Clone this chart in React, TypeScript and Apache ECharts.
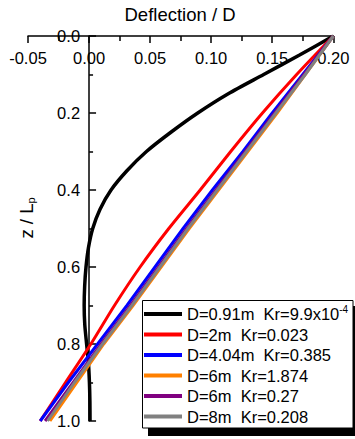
import React, { useEffect, useRef } from "react";
import * as echarts from "echarts";

const FONT = "'Liberation Sans', Arial, sans-serif";

// depth ratio z / Lp
const blackZ = [0, 0.05, 0.1, 0.15, 0.2, 0.25, 0.3, 0.35, 0.4, 0.45, 0.5, 0.55, 0.6, 0.65, 0.7, 0.75, 0.8, 0.85, 0.9, 0.95, 1.0];
const blackDefl = [0.2, 0.172, 0.143, 0.114, 0.089, 0.067, 0.047, 0.031, 0.018, 0.009, 0.003, -0.0005, -0.0025, -0.0036, -0.004, -0.0035, -0.002, -0.0005, 0.0003, 0.0007, 0.0008];

const zSteps = [0, 0.1, 0.2, 0.3, 0.4, 0.5, 0.6, 0.7, 0.8, 0.9, 1.0];
const redDefl = [0.2, 0.170, 0.142, 0.116, 0.091, 0.0653, 0.0418, 0.0208, 0.0015, -0.0193, -0.040];
const blueDefl = [0.2, 0.175, 0.150, 0.126, 0.101, 0.077, 0.054, 0.031, 0.007, -0.017, -0.040];
const orangeDefl = [0.2, 0.177, 0.154, 0.130, 0.106, 0.082, 0.059, 0.036, 0.012, -0.010, -0.032];
const purpleDefl = [0.2, 0.176, 0.152, 0.128, 0.104, 0.080, 0.057, 0.034, 0.010, -0.013, -0.036];
const grayDefl = [0.2, 0.177, 0.153, 0.129, 0.105, 0.081, 0.058, 0.035, 0.011, -0.012, -0.034];

const seriesNames = [
  "D=0.91m  Kr=9.9x10-4",
  "D=2m  Kr=0.023",
  "D=4.04m  Kr=0.385",
  "D=6m  Kr=1.874",
  "D=6m  Kr=0.27",
  "D=8m  Kr=0.208",
];
const seriesColors = ["#000000", "#ff0000", "#0000ff", "#ff8000", "#800080", "#808080"];

const xTicks = { min: -0.05, max: 0.2, interval: 0.05 };
const yTicks = { min: 0, max: 1, interval: 0.2 };

function pairs(xs: number[], zs: number[]) {
  return xs.map((x, i) => [x, zs[i]]);
}

export default function App() {
  const ref = useRef<HTMLDivElement>(null);
  useEffect(() => {
    if (!ref.current) return;
    const chart = echarts.init(ref.current, undefined, { renderer: "svg" });
    const datasets = [
      pairs(blackDefl, blackZ),
      pairs(redDefl, zSteps),
      pairs(blueDefl, zSteps),
      pairs(orangeDefl, zSteps),
      pairs(purpleDefl, zSteps),
      pairs(grayDefl, zSteps),
    ];
    const gridLeft = 28;
    const gridWidth = 305.3;
    // pixel offset of x = 0 from the grid's left edge
    const zeroOffset = ((0 - xTicks.min) / (xTicks.max - xTicks.min)) * gridWidth;
    const axisLineStyle = { color: "#000", width: 1.5 };
    const labelStyle = { fontSize: 16.5, fontFamily: FONT, color: "#000" };
    chart.setOption({
      animation: false,
      backgroundColor: "#fff",
      grid: {
        left: gridLeft,
        width: gridWidth,
        top: 36,
        bottom: 18,
        containLabel: false,
        outerBoundsMode: "none",
      },
      xAxis: {
        type: "value",
        position: "top",
        min: xTicks.min,
        max: xTicks.max,
        interval: xTicks.interval,
        axisLine: { show: true, onZero: false, lineStyle: axisLineStyle },
        axisTick: { show: true, inside: true, length: 7, lineStyle: axisLineStyle },
        minorTick: { show: true, splitNumber: 2, length: 5, lineStyle: axisLineStyle },
        axisLabel: { inside: true, margin: 13, formatter: (v: number) => v.toFixed(2), ...labelStyle },
        splitLine: { show: false },
      },
      yAxis: {
        type: "value",
        position: "left",
        inverse: true,
        min: yTicks.min,
        max: yTicks.max,
        interval: yTicks.interval,
        offset: -zeroOffset,
        axisLine: { show: true, onZero: false, lineStyle: axisLineStyle },
        axisTick: { show: true, inside: true, length: 7, lineStyle: axisLineStyle },
        minorTick: { show: true, splitNumber: 2, length: 4, lineStyle: axisLineStyle },
        axisLabel: { margin: 9, formatter: (v: number) => v.toFixed(1), ...labelStyle },
        splitLine: { show: false },
      },
      legend: {
        show: true,
        orient: "vertical",
        left: 144,
        top: 304,
        padding: 0,
        itemGap: 0.5,
        itemWidth: 38,
        itemHeight: 4,
        icon: "rect",
        selectedMode: false,
        z: 20,
        data: seriesNames,
        formatter: (name: string) =>
          name === seriesNames[0] ? "{t|D=0.91m  Kr=9.9x10}{sup|-4}" : "{t|" + name + "}",
        textStyle: {
          fontSize: 16.5,
          fontFamily: FONT,
          color: "#000",
          lineHeight: 20,
          rich: {
            t: { fontSize: 16.5, fontFamily: FONT, color: "#000", lineHeight: 20 },
            sup: { fontSize: 10, fontFamily: FONT, color: "#000", lineHeight: 10, verticalAlign: "top" },
          },
        },
      },
      graphic: [
        { type: "rect", z: 5, shape: { x: 148, y: 306, width: 212, height: 130 }, style: { fill: "#000" } },
        {
          type: "rect",
          z: 6,
          shape: { x: 142.5, y: 300.5, width: 210.5, height: 127.5 },
          style: { fill: "#fff", stroke: "#000", lineWidth: 1 },
        },
        {
          type: "text",
          x: 180,
          y: 14,
          style: {
            text: "Deflection / D",
            fontSize: 18.5,
            fontFamily: FONT,
            fill: "#000",
            textAlign: "center",
            textVerticalAlign: "middle",
          },
        },
        {
          type: "text",
          x: 26,
          y: 218,
          rotation: Math.PI / 2,
          style: {
            text: "{a|z / L}{s|p}",
            fontSize: 18.5,
            fontFamily: FONT,
            fill: "#000",
            textAlign: "center",
            textVerticalAlign: "middle",
            rich: {
              a: { fontSize: 18.5, fontFamily: FONT, fill: "#000", lineHeight: 20 },
              s: { fontSize: 11, fontFamily: FONT, fill: "#000", lineHeight: 12, verticalAlign: "bottom" },
            },
          },
        },
      ],
      series: datasets.map((d, i) => ({
        type: "line",
        name: seriesNames[i],
        data: d,
        showSymbol: false,
        symbol: "none",
        smooth: i <= 1 ? 0.25 : false,
        color: seriesColors[i],
        itemStyle: { color: seriesColors[i] },
        lineStyle: { color: seriesColors[i], width: i === 0 ? 3.5 : 3 },
        z: 2,
      })),
    });
    return () => chart.dispose();
  }, []);
  return (
    <div
      ref={ref}
      style={{ position: "absolute", left: 0, top: 0, width: 355, height: 439 }}
    />
  );
}
